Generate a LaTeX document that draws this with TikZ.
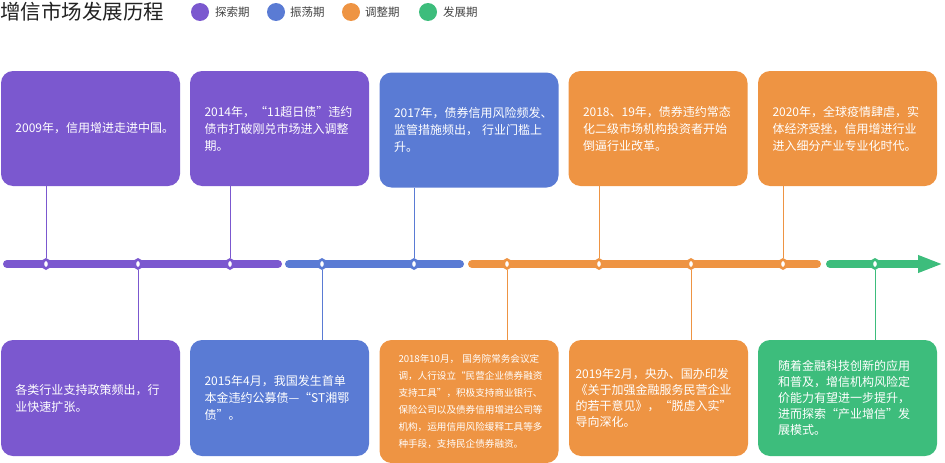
\documentclass[tikz,border=0pt]{standalone}
\usepackage{fontspec}
\setmainfont{Noto Sans CJK SC}
\usetikzlibrary{positioning, arrows.meta, shapes.geometric}

\definecolor{colExplore}{HTML}{7B58CF}
\definecolor{colSwing}{HTML}{5A7BD4}
\definecolor{colAdjust}{HTML}{EE9443}
\definecolor{colGrow}{HTML}{3DBD7C}
\definecolor{colTitle}{HTML}{222222}
\definecolor{colLegend}{HTML}{444444}

\begin{document}
\begin{tikzpicture}[x=1pt,y=-1pt,
    card/.style={rounded corners=12pt, minimum width=179pt, minimum height=115pt,
        inner sep=0pt, text=white, align=left, text width=150pt,
        font=\fontsize{12pt}{17pt}\selectfont},
    knot/.style={ellipse, fill=white, line width=2.6pt, minimum width=6.5pt, minimum height=9pt, inner sep=0pt},
    link/.style={line width=0.8pt},
    seg/.style={line width=8pt, line cap=round},
    legdot/.style={circle, minimum size=18pt, inner sep=0pt},
    leglabel/.style={anchor=west, inner sep=0pt, text=colLegend, font=\fontsize{11.5pt}{14pt}\selectfont}]
        \useasboundingbox (0,0) rectangle (945,463);

        % title and legend
        \node[anchor=west, inner sep=0pt, text=colTitle, font=\fontsize{20.5pt}{24pt}\selectfont] (title) at (0,12) {增信市场发展历程};

        \node[legdot, fill=colExplore] (lg1) at (200,12) {};
        \node[leglabel] (lt1) at (215,12) {探索期};
        \node[legdot, fill=colSwing] (lg2) at (276,12) {};
        \node[leglabel] (lt2) at (290,12) {振荡期};
        \node[legdot, fill=colAdjust] (lg3) at (351,12) {};
        \node[leglabel] (lt3) at (365,12) {调整期};
        \node[legdot, fill=colGrow] (lg4) at (428,12) {};
        \node[leglabel] (lt4) at (443,12) {发展期};

        % time line
        \draw[seg, colExplore] (7,264) -- (278,264);
        \draw[seg, colSwing] (289,264) -- (460,264);
        \draw[seg, colAdjust] (472,264) -- (817,264);
        \draw[seg, colGrow, -{Triangle[length=25pt,width=16pt]}] (830,264) -- (943,264);

        % upper cards
        \node[card, fill=colExplore] (t1) at (90.5,128.5) {2009年，信用增进走进中国。};
        \node[card, fill=colExplore] (t2) at (279.5,128.5) {2014年，“11超日债”违约\\债市打破刚兑市场进入调整\\期。};
        \node[card, fill=colSwing] (t3) at (469,130) {2017年，债券信用风险频发、\\监管措施频出， 行业门槛上\\升。};
        \node[card, fill=colAdjust] (t4) at (658,128.5) {2018、19年，债券违约常态\\化二级市场机构投资者开始\\倒逼行业改革。};
        \node[card, fill=colAdjust] (t5) at (847.5,128.5) {2020年，全球疫情肆虐，实\\体经济受挫，信用增进行业\\进入细分产业专业化时代。};

        % lower cards
        \node[card, fill=colExplore, minimum height=116pt] (b1) at (90.5,398) {各类行业支持政策频出，行\\业快速扩张。};
        \node[card, fill=colSwing, minimum height=116pt] (b2) at (279.5,398) {2015年4月，我国发生首单\\本金违约公募债—“ST湘鄂\\债”。};
        \node[card, fill=colAdjust, minimum height=123pt, text width=141pt,
            font=\fontsize{9.6pt}{17pt}\selectfont] (b3) at (469,401.5) {2018年10月， 国务院常务会议定\\调，人行设立“民营企业债券融资\\支持工具”，积极支持商业银行、\\保险公司以及债券信用增进公司等\\机构，运用信用风险缓释工具等多\\种手段，支持民企债券融资。};
        \node[card, fill=colAdjust, minimum height=116pt, text width=166pt,
            font=\fontsize{12pt}{16pt}\selectfont] (b4) at (658.5,398) {2019年2月，央办、国办印发\\《关于加强金融服务民营企业\\的若干意见》，“脱虚入实”\\导向深化。};
        \node[card, fill=colGrow, minimum height=116pt, text width=139pt,
            font=\fontsize{12pt}{16pt}\selectfont] (b5) at (847.5,398) {随着金融科技创新的应用\\和普及，增信机构风险定\\价能力有望进一步提升，\\进而探索“产业增信”发\\展模式。};

        % points on the line
        \node[knot, draw=colExplore] (d1) at (46,264) {};
        \node[knot, draw=colExplore] (d2) at (138,264) {};
        \node[knot, draw=colExplore] (d3) at (230,264) {};
        \node[knot, draw=colSwing] (d4) at (322,264) {};
        \node[knot, draw=colSwing] (d5) at (414,264) {};
        \node[knot, draw=colAdjust] (d6) at (507,264) {};
        \node[knot, draw=colAdjust] (d7) at (599,264) {};
        \node[knot, draw=colAdjust] (d8) at (691,264) {};
        \node[knot, draw=colAdjust] (d9) at (783,264) {};
        \node[knot, draw=colGrow] (d10) at (875,264) {};

        % stems
        \draw[link, colExplore] (d1) -- (d1 |- t1.south);
        \draw[link, colExplore] (d3) -- (d3 |- t2.south);
        \draw[link, colSwing] (d5) -- (d5 |- t3.south);
        \draw[link, colAdjust] (d7) -- (d7 |- t4.south);
        \draw[link, colAdjust] (d9) -- (d9 |- t5.south);

        \draw[link, colExplore] (d2) -- (d2 |- b1.north);
        \draw[link, colSwing] (d4) -- (d4 |- b2.north);
        \draw[link, colAdjust] (d6) -- (d6 |- b3.north);
        \draw[link, colAdjust] (d8) -- (d8 |- b4.north);
        \draw[link, colGrow] (d10) -- (d10 |- b5.north);
    \end{tikzpicture}
\end{document}
